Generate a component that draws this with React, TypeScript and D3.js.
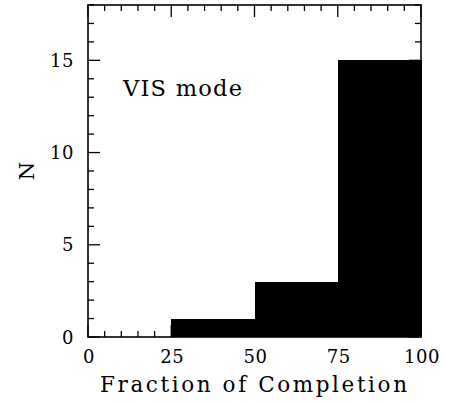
import React from "react";
import * as d3 from "d3";

// Histogram of completion fractions (VIS mode)
const binEdges = [0, 25, 50, 75, 100];
const counts = [0, 1, 3, 15];
const xTickValues = [0, 25, 50, 75, 100];
const yTickValues = [0, 5, 10, 15];
const xLabel = "Fraction of Completion";
const yLabel = "N";
const annotation = "VIS mode";

const W = 455;
const H = 403;
const M = { left: 88, right: 34, top: 5, bottom: 66 };
const FONT = "'DejaVu Serif', 'Liberation Serif', serif";

export default function App() {
  const x = d3.scaleLinear().domain([0, 100]).range([M.left, W - M.right]);
  const y = d3.scaleLinear().domain([0, 18]).range([H - M.bottom, M.top]);
  const [x0, x1] = x.range();
  const [yb, yt] = y.range();

  const xMinor = d3.range(0, 101, 5);
  const yMinor = d3.range(0, 19, 1);
  const major = 12;
  const minor = 6;

  const bins = counts.map((c, i) => ({ lo: binEdges[i], hi: binEdges[i + 1], c }));

  return (
    <svg width={W} height={H} style={{ position: "absolute", left: 0, top: 0, background: "#fff" }}>
      <g shapeRendering="crispEdges">
        {bins.filter((b) => b.c > 0).map((b, i) => (
          <rect key={i} x={x(b.lo)} y={y(b.c)} width={x(b.hi) - x(b.lo) + 0.5} height={y(0) - y(b.c)} fill="#000" />
        ))}
      </g>
      <g stroke="#000" strokeWidth={1.3}>
        {xMinor.map((v) => {
          const len = v % 25 === 0 ? major : minor;
          return (
            <g key={"x" + v}>
              <line x1={x(v)} x2={x(v)} y1={yb} y2={yb - len} />
              <line x1={x(v)} x2={x(v)} y1={yt} y2={yt + len} />
            </g>
          );
        })}
        {yMinor.map((v) => {
          const len = v % 5 === 0 ? major : minor;
          return (
            <g key={"y" + v}>
              <line x1={x0} x2={x0 + len} y1={y(v)} y2={y(v)} />
              <line x1={x1} x2={x1 - len} y1={y(v)} y2={y(v)} />
            </g>
          );
        })}
      </g>
      <rect x={x0} y={yt} width={x1 - x0} height={yb - yt} fill="none" stroke="#000" strokeWidth={1.6} />
      <g fontFamily={FONT} fontSize={18} fill="#000" letterSpacing={0.5}>
        {xTickValues.map((v) => (
          <text key={v} x={x(v) + 1} y={363} textAnchor="middle">{v}</text>
        ))}
        {yTickValues.map((v) => (
          <text key={v} x={74} y={y(v) + 6.5} textAnchor="end">{v}</text>
        ))}
      </g>
      <text x={100} y={392} textLength={307} lengthAdjust="spacing" fontFamily={FONT} fontSize={21.5} fill="#000">
        {xLabel}
      </text>
      <text transform={`translate(34, 171) rotate(-90)`} textAnchor="middle" fontFamily={FONT} fontSize={21} fill="#000">
        {yLabel}
      </text>
      <text x={123} y={96} textLength={119} lengthAdjust="spacing" fontFamily={FONT} fontSize={22.5} fill="#000">
        {annotation}
      </text>
    </svg>
  );
}
